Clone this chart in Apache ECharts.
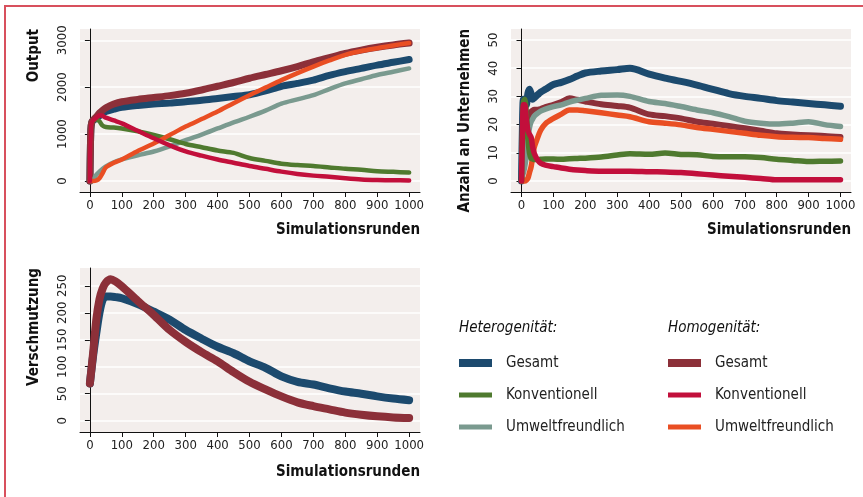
<!DOCTYPE html>
<html>
<head>
<meta charset="utf-8">
<script src="https://cdn.jsdelivr.net/npm/echarts@6/dist/echarts.min.js"></script>
<style>
html, body { margin: 0; padding: 0; background: #fff; }
#chart { width: 863px; height: 497px; }
</style>
</head>
<body>
<div id="chart"></div>
<script>
// Simulationsrunden (x) je Panel
var outX = [0, 3, 6, 10, 20, 30, 40, 50, 75, 100, 150, 200, 250, 300, 350, 400, 450, 500, 550, 600, 650, 700, 750, 800, 850, 900, 950, 1000];
var anzX = [0, 3, 6, 10, 15, 20, 25, 30, 35, 40, 50, 60, 75, 100, 125, 150, 175, 200, 250, 300, 340, 400, 450, 500, 550, 600, 650, 700, 750, 800, 850, 900, 950, 1000];
var verX = [0, 10, 20, 30, 40, 50, 65, 80, 100, 150, 200, 250, 300, 350, 400, 450, 500, 550, 600, 650, 700, 750, 800, 850, 900, 950, 1000];

// Output
var outHetGesamt = [0, 1100, 1250, 1290, 1330, 1390, 1440, 1480, 1530, 1570, 1610, 1640, 1660, 1690, 1720, 1760, 1800, 1840, 1920, 2020, 2080, 2150, 2250, 2330, 2400, 2470, 2530, 2590];
var outHetKonv = [0, 1100, 1250, 1280, 1320, 1270, 1180, 1150, 1140, 1120, 1060, 980, 890, 790, 720, 650, 600, 490, 430, 370, 340, 320, 290, 260, 240, 210, 195, 180];
var outHetUmwelt = [0, 0, 0, 20, 130, 200, 260, 310, 400, 460, 550, 630, 740, 870, 990, 1120, 1250, 1370, 1500, 1650, 1740, 1830, 1960, 2080, 2170, 2260, 2330, 2400];
var outHomGesamt = [0, 1100, 1260, 1300, 1370, 1450, 1510, 1560, 1640, 1690, 1740, 1780, 1820, 1870, 1940, 2020, 2100, 2190, 2270, 2350, 2440, 2540, 2630, 2720, 2790, 2850, 2900, 2940];
var outHomKonv = [0, 1100, 1250, 1290, 1350, 1400, 1390, 1350, 1290, 1230, 1070, 910, 760, 630, 540, 460, 390, 320, 260, 200, 150, 115, 90, 60, 35, 22, 16, 12];
var outHomUmwelt = [0, 0, 0, 0, 10, 60, 170, 290, 390, 460, 640, 800, 980, 1160, 1320, 1480, 1660, 1830, 1990, 2150, 2300, 2440, 2570, 2690, 2770, 2830, 2890, 2940];

// Anzahl an Unternehmen
var anzHetGesamt = [0, 20, 29, 29, 27, 31, 32.5, 31, 29, 29.5, 30.5, 31.5, 32.5, 34.2, 35, 36, 37.2, 38.3, 39, 39.5, 40, 37.9, 36.5, 35.3, 34, 32.5, 31, 30, 29.3, 28.5, 28, 27.5, 27, 26.5];
var anzHetKonv = [0, 18, 28, 29, 24, 15, 10, 8, 7.8, 7.6, 7.6, 7.7, 7.8, 7.8, 7.7, 7.9, 8, 8.1, 8.5, 9.2, 9.7, 9.5, 9.9, 9.4, 9.3, 8.7, 8.6, 8.6, 8.3, 7.7, 7.3, 6.9, 7, 7.1];
var anzHetUmwelt = [0, 2, 3, 5, 9, 15, 19, 21, 22, 23, 24, 24.8, 25.5, 26.4, 27, 28, 28.7, 29.3, 30.4, 30.5, 30, 28.2, 27.5, 26.4, 25.2, 24.2, 22.8, 21.2, 20.5, 20.2, 20.5, 21, 20, 19.3];
var anzHomGesamt = [0, 18, 27, 26, 20, 20, 22, 24.5, 25, 25.3, 25.3, 25.5, 26.2, 27, 28, 29.3, 28.8, 28.2, 27.2, 26.6, 26, 23.6, 23, 22.2, 21, 20.3, 19.5, 18.7, 17.8, 16.9, 16.5, 16.2, 16, 15.6];
var anzHomKonv = [0, 18, 27, 27, 22, 18, 16.5, 15.5, 12, 9.8, 7.5, 6.3, 5.6, 5.1, 4.6, 4.2, 3.9, 3.7, 3.5, 3.5, 3.5, 3.3, 3.2, 3, 2.6, 2.1, 1.7, 1.3, 0.9, 0.4, 0.4, 0.4, 0.4, 0.4];
var anzHomUmwelt = [0, 0, 0, 0, 0.3, 1, 3, 5, 8.5, 12, 15.2, 18, 20.3, 22.2, 23.7, 25.2, 25.2, 24.9, 24.2, 23.4, 22.8, 21, 20.5, 19.9, 19, 18.3, 17.6, 16.9, 16.2, 15.7, 15.5, 15.4, 15.1, 14.8];

// Verschmutzung
var verHetGesamt = [69, 120, 162, 200, 224, 230, 230, 229, 227, 216, 202, 187, 168, 152, 137, 125, 110, 98, 82, 72, 67, 60, 54, 50, 45, 41, 38];
var verHomGesamt = [69, 125, 187, 225, 245, 256, 262, 258, 249, 222, 196, 168, 146, 127, 110, 90, 72, 58, 45, 34, 27, 21, 15, 11, 8, 6, 5];

// Tick-Beschriftungen
var xTicks = [0, 100, 200, 300, 400, 500, 600, 700, 800, 900, 1000];
var outTicks = [0, 1000, 2000, 3000];
var anzTicks = [0, 10, 20, 30, 40, 50];
var verTicks = [0, 50, 100, 150, 200, 250];

var FONT = "'Liberation Sans Narrow', 'DejaVu Sans Condensed', 'Roboto', sans-serif";
var col = {
    hetGesamt: '#1c4a6e', hetKonv: '#4f7a2f', hetUmwelt: '#7a9a8f',
    homGesamt: '#8c3039', homKonv: '#c20f3b', homUmwelt: '#e94e23'
};

function zip(xs, ys) {
    var r = [];
    for (var i = 0; i < xs.length; i++) r.push([xs[i], ys[i]]);
    return r;
}

function plain(v) { return String(v); }

function xAxisFor(idx, min, max) {
    return {
        type: 'value', gridIndex: idx, min: min, max: max,
        axisLine: { show: true, onZero: false, lineStyle: { color: '#111', width: 1 } },
        axisTick: { show: true, customValues: xTicks, length: 5, lineStyle: { color: '#111' } },
        axisLabel: { customValues: xTicks, formatter: plain, color: '#222', fontSize: 13, fontFamily: FONT, margin: 7 },
        splitLine: { show: false }
    };
}

function yAxisFor(idx, min, max, ticks) {
    return {
        type: 'value', gridIndex: idx, min: min, max: max,
        axisLine: { show: true, lineStyle: { color: '#111', width: 1 } },
        axisTick: { show: true, customValues: ticks, length: 5, lineStyle: { color: '#111' } },
        axisLabel: { customValues: ticks, formatter: plain, rotate: 90, color: '#222', fontSize: 13, fontFamily: FONT, margin: 11 },
        splitLine: { show: true, lineStyle: { color: '#ffffff', width: 1.5 } }
    };
}

function line(name, idx, xs, ys, color, width) {
    return {
        name: name, type: 'line', xAxisIndex: idx, yAxisIndex: idx,
        data: zip(xs, ys), showSymbol: false, symbol: 'none', smooth: 0.3,
        lineStyle: { color: color, width: width, cap: 'round', join: 'round' },
        itemStyle: { color: color },
        emphasis: { disabled: true }
    };
}

function legendFor(left, names) {
    return {
        orient: 'vertical', left: left, top: 354, padding: 0,
        itemWidth: 33, itemHeight: 8, itemGap: 14, selectedMode: false,
        textStyle: { fontFamily: FONT, fontSize: 15, color: '#222', lineHeight: 18, padding: [0, 0, 0, 9] },
        formatter: function (n) { return n.split('|')[1]; },
        data: [
            { name: names[0], icon: 'path://M0 0H33V8H0Z' },
            { name: names[1], icon: 'path://M0 0H33V5H0Z' },
            { name: names[2], icon: 'path://M0 0H33V5H0Z' }
        ]
    };
}

var chart = echarts.init(document.getElementById('chart'));

var axisTitle = { fontFamily: FONT, fontWeight: 'bold', fontSize: 15, fill: '#111' };

var option = {
    animation: false,
    backgroundColor: '#ffffff',
    grid: [
        { left: 80, top: 29, width: 340, height: 163, show: true, backgroundColor: '#f3eeec', borderWidth: 0 },
        { left: 511, top: 29, width: 340, height: 163, show: true, backgroundColor: '#f3eeec', borderWidth: 0 },
        { left: 80, top: 268, width: 340, height: 164, show: true, backgroundColor: '#f3eeec', borderWidth: 0 }
    ],
    xAxis: [xAxisFor(0, -31, 1034), xAxisFor(1, -33, 1033), xAxisFor(2, -31, 1034)],
    yAxis: [yAxisFor(0, -234, 3240, outTicks), yAxisFor(1, -3.9, 53.9, anzTicks), yAxisFor(2, -21, 283, verTicks)],
    legend: [
        legendFor(459, ['Het|Gesamt', 'Het|Konventionell', 'Het|Umweltfreundlich']),
        legendFor(668, ['Hom|Gesamt', 'Hom|Konventionell', 'Hom|Umweltfreundlich'])
    ],
    graphic: [
        // Rahmen oben und links
        { type: 'line', shape: { x1: 4, y1: 6, x2: 863, y2: 6 }, style: { stroke: '#d8505d', lineWidth: 2 } },
        { type: 'line', shape: { x1: 5, y1: 6, x2: 5, y2: 497 }, style: { stroke: '#d8505d', lineWidth: 2 } },
        // Achsentitel
        { type: 'text', x: 34, y: 29, rotation: Math.PI / 2, style: Object.assign({ text: 'Output', align: 'right', verticalAlign: 'middle' }, axisTitle) },
        { type: 'text', x: 465, y: 29, rotation: Math.PI / 2, style: Object.assign({ text: 'Anzahl an Unternehmen', align: 'right', verticalAlign: 'middle' }, axisTitle) },
        { type: 'text', x: 34, y: 268, rotation: Math.PI / 2, style: Object.assign({ text: 'Verschmutzung', align: 'right', verticalAlign: 'middle' }, axisTitle) },
        { type: 'text', x: 420, y: 230, style: Object.assign({ text: 'Simulationsrunden', align: 'right', verticalAlign: 'middle' }, axisTitle) },
        { type: 'text', x: 851, y: 230, style: Object.assign({ text: 'Simulationsrunden', align: 'right', verticalAlign: 'middle' }, axisTitle) },
        { type: 'text', x: 420, y: 472, style: Object.assign({ text: 'Simulationsrunden', align: 'right', verticalAlign: 'middle' }, axisTitle) },
        // Legendentitel
        { type: 'text', x: 459, y: 328, style: { text: 'Heterogenität:', fontFamily: FONT, fontStyle: 'italic', fontSize: 15, fill: '#111', verticalAlign: 'middle' } },
        { type: 'text', x: 668, y: 328, style: { text: 'Homogenität:', fontFamily: FONT, fontStyle: 'italic', fontSize: 15, fill: '#111', verticalAlign: 'middle' } }
    ],
    series: [
        // Output
        line('Het|Gesamt', 0, outX, outHetGesamt, col.hetGesamt, 7),
        line('Hom|Gesamt', 0, outX, outHomGesamt, col.homGesamt, 7),
        line('Het|Umweltfreundlich', 0, outX, outHetUmwelt, col.hetUmwelt, 4.5),
        line('Het|Konventionell', 0, outX, outHetKonv, col.hetKonv, 4.5),
        line('Hom|Umweltfreundlich', 0, outX, outHomUmwelt, col.homUmwelt, 4.5),
        line('Hom|Konventionell', 0, outX, outHomKonv, col.homKonv, 4.5),
        // Anzahl an Unternehmen
        line('Hom|Gesamt', 1, anzX, anzHomGesamt, col.homGesamt, 6),
        line('Het|Gesamt', 1, anzX, anzHetGesamt, col.hetGesamt, 7),
        line('Het|Umweltfreundlich', 1, anzX, anzHetUmwelt, col.hetUmwelt, 5.5),
        line('Hom|Umweltfreundlich', 1, anzX, anzHomUmwelt, col.homUmwelt, 5.5),
        line('Het|Konventionell', 1, anzX, anzHetKonv, col.hetKonv, 5.5),
        line('Hom|Konventionell', 1, anzX, anzHomKonv, col.homKonv, 5.5),
        // Verschmutzung
        line('Het|Gesamt', 2, verX, verHetGesamt, col.hetGesamt, 8),
        line('Hom|Gesamt', 2, verX, verHomGesamt, col.homGesamt, 8)
    ]
};
chart.setOption(option);
</script>
</body>
</html>
